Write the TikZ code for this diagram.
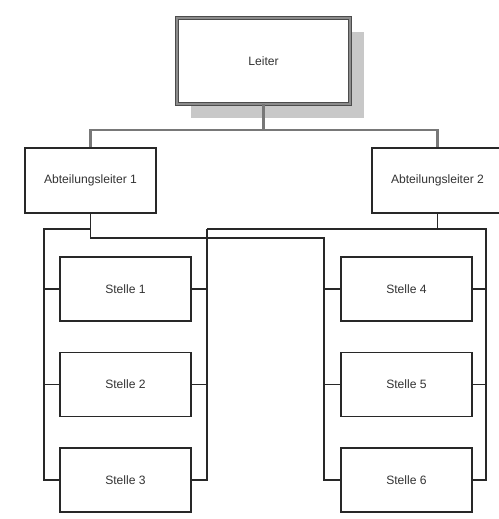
\documentclass[tikz,border=0pt]{standalone}
\usepackage{fontspec}
\setmainfont{Liberation Sans}
\usetikzlibrary{positioning}
\definecolor{orgline}{RGB}{40,40,40}
\definecolor{orggray}{RGB}{120,120,120}
\definecolor{orgshadow}{RGB}{200,200,200}
\tikzset{
  orgbox/.style={draw=orgline, fill=white, line width=0.8pt, minimum width=2.62cm, minimum height=1.3cm, font=\fontsize{6.9}{8}\selectfont, text=black!80},
  link/.style={draw=orgline, line width=0.8pt},
  toplink/.style={draw=orggray, line width=1.2pt}
}

\begin{document}
\begin{tikzpicture}[x=0.02cm, y=-0.02cm]
  \useasboundingbox[fill=white] (0,0) rectangle (498,519);

  % Leiter with shadow
  \fill[orgshadow] (191,32) rectangle (364,118);
  \node[orgbox, draw=black!70, double=black!45, double distance=1.2pt, line width=0.5pt, minimum width=3.46cm, minimum height=1.72cm] (leiter) at (263.5,61) {Leiter};

  \node[orgbox] (abt1) at (90.5,180.5) {Abteilungsleiter 1};
  \node[orgbox] (abt2) at (437.5,180.5) {Abteilungsleiter 2};

  \node[orgbox, minimum height=1.28cm] (s1) at (125.5,289) {Stelle 1};
  \node[orgbox, minimum height=1.28cm] (s2) at (125.5,384.5) {Stelle 2};
  \node[orgbox, minimum height=1.28cm] (s3) at (125.5,480) {Stelle 3};
  \node[orgbox, minimum height=1.28cm] (s4) at (406.5,289) {Stelle 4};
  \node[orgbox, minimum height=1.28cm] (s5) at (406.5,384.5) {Stelle 5};
  \node[orgbox, minimum height=1.28cm] (s6) at (406.5,480) {Stelle 6};

  \coordinate (hub) at (263.5,130);
  \coordinate (j1) at (90.5,229);
  \coordinate (j2) at (437.5,229);

  % top level
  \draw[toplink] (leiter.south) -- (hub);
  \draw[toplink] (abt1.north) |- (hub) -| (abt2.north);

  % Abteilungsleiter 1
  \draw[link] (abt1.south) -- (j1) -- (44,229) |- (s3.west);
  \draw[link] (j1) -- (90.5,238) -- (324,238) |- (s6.west);

  % Abteilungsleiter 2
  \draw[link] (abt2.south) -- (j2);
  \draw[link] (207,229) -- (486,229) |- (s6.east);
  \draw[link] (207,229) |- (s3.east);

  % stubs
  \draw[link] (s1.west) -- ++(-16,0);
  \draw[link] (s2.west) -- ++(-16,0);
  \draw[link] (s1.east) -- ++(16,0);
  \draw[link] (s2.east) -- ++(16,0);
  \draw[link] (s4.west) -- ++(-17,0);
  \draw[link] (s5.west) -- ++(-17,0);
  \draw[link] (s4.east) -- ++(14,0);
  \draw[link] (s5.east) -- ++(14,0);
\end{tikzpicture}
\end{document}
